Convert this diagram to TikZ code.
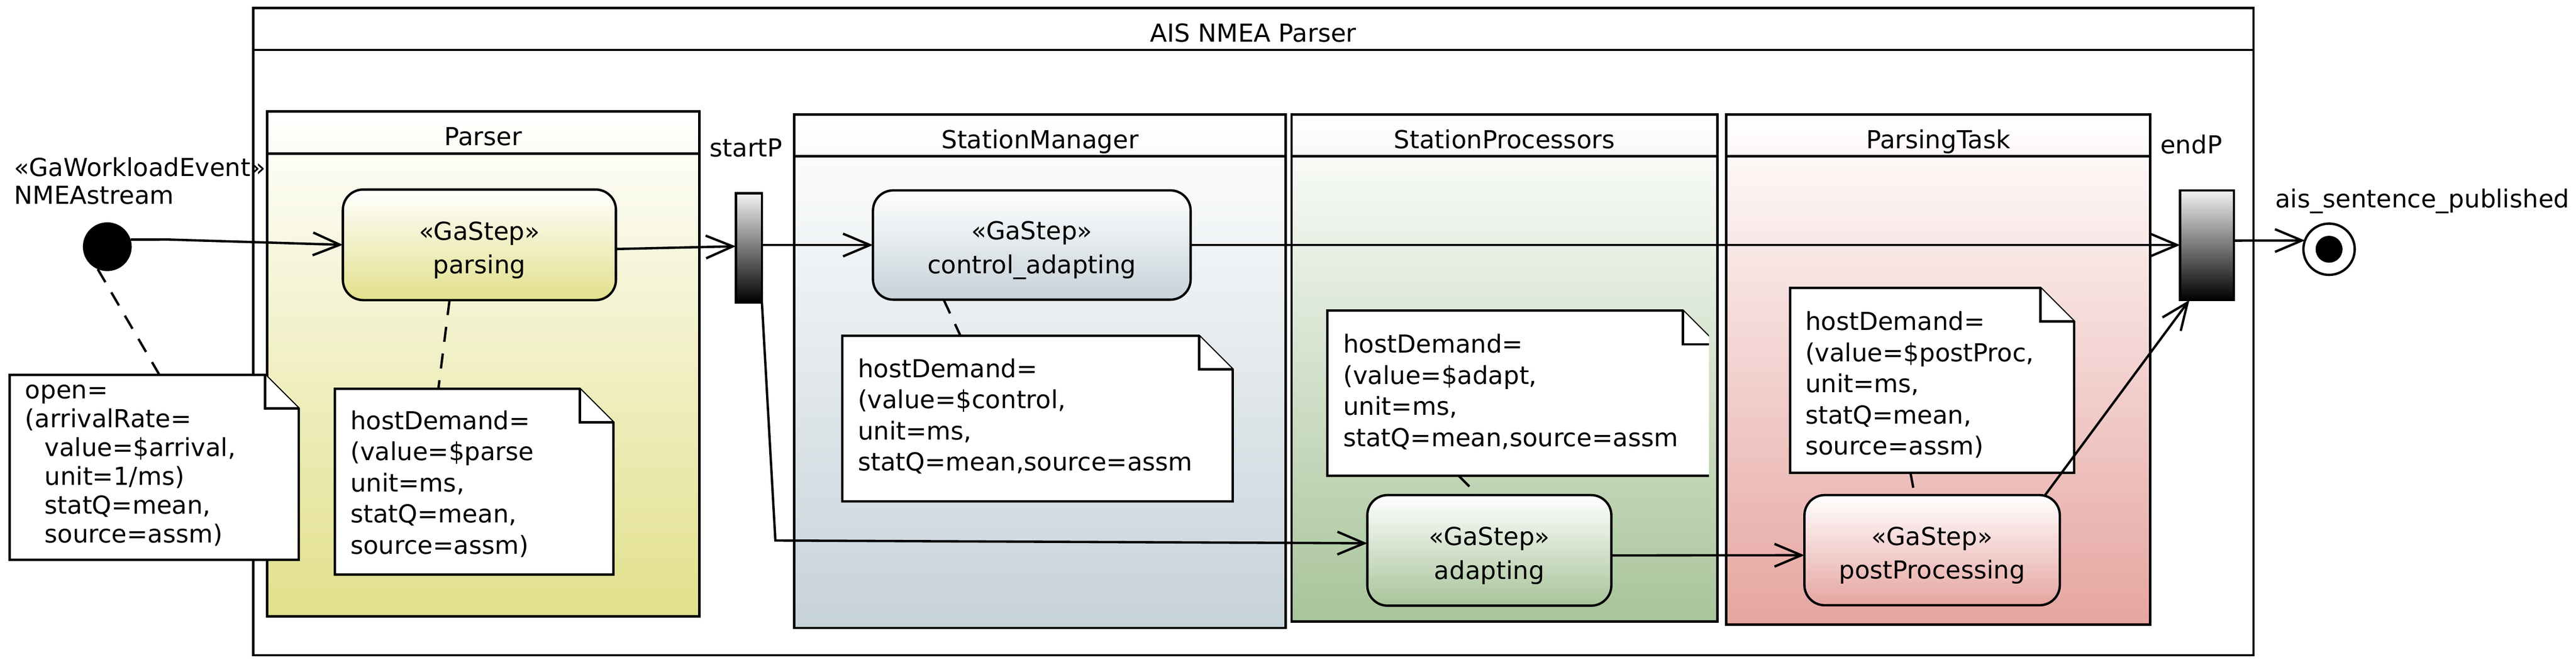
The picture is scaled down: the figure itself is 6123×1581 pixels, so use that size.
\documentclass[tikz,border=0pt]{standalone}
\usepackage{fontspec}
\setmainfont{DejaVu Sans}
\usetikzlibrary{arrows.meta,calc}
\definecolor{parserC}{HTML}{E2E08B}
\definecolor{smC}{HTML}{C6D2D9}
\definecolor{spC}{HTML}{A8C49A}
\definecolor{ptC}{HTML}{E6A5A0}
\newcommand{\fsz}{\fontsize{14.75pt}{18.5pt}\selectfont}
\newcommand{\umlnote}[5]{%
  \node[notearea, minimum width={(#4-#2)*0.25pt}, minimum height={(#5-#3)*0.25pt}] (#1) at (#2,#3) {};
  \filldraw[noteline] (#1.south west) -- (#1.north west) -- ([xshift=-20pt]#1.north east) -- ([yshift=-20pt]#1.north east) -- (#1.south east) -- cycle;
  \draw[noteline] ([xshift=-20pt]#1.north east) |- ([yshift=-20pt]#1.north east);
}
\newcommand{\umlpart}[7]{%
  \node[partbox, bottom color=#6, minimum width={(#4-#2)*0.25pt}, minimum height={(#5-#3)*0.25pt}] (#1) at (#2,#3) {};
  \draw[partline] ([yshift=-25pt]#1.north west) -- ([yshift=-25pt]#1.north east);
  \node[txt, anchor=base] (#1T) at ([yshift=-20.25pt]#1.north) {#7};
}
\begin{document}
\begin{tikzpicture}[x=0.25pt,y=-0.25pt,
  txt/.style={inner sep=0pt, outer sep=0pt, font=\fsz},
  framebox/.style={draw, fill=white, line width=1.3pt, rectangle, anchor=north west, inner sep=0pt, outer sep=0pt},
  partbox/.style={draw, line width=1.5pt, rectangle, anchor=north west, inner sep=0pt, outer sep=0pt, top color=white},
  partline/.style={line width=1.5pt},
  stepbox/.style={draw, line width=1.4pt, rounded corners=12pt, rectangle, inner sep=0pt, outer sep=0pt, align=center, top color=white, font=\fontsize{14.75pt}{20pt}\selectfont},
  pinbox/.style={draw, line width=1.4pt, rectangle, anchor=north west, inner sep=0pt, outer sep=0pt, top color=black!5, bottom color=black},
  notearea/.style={rectangle, anchor=north west, inner sep=0pt, outer sep=0pt},
  noteline/.style={draw=black, fill=white, line width=1.4pt, line join=miter},
  notetext/.style={anchor=north west, align=left, inner sep=0pt, outer sep=0pt, font=\fsz},
  conn/.style={line width=1.4pt, -{Straight Barb[length=16pt,width=13.5pt]}},
  dashline/.style={line width=1.4pt, dash pattern=on 9pt off 7pt},
]
\useasboundingbox (0,0) rectangle (6123,1581);
\fill[white] (0,0) rectangle (6123,1581);

% outer frame
\node[framebox, minimum width=1188.5pt, minimum height=385pt] (frame) at (602,19) {};
\draw[line width=1.3pt] ([yshift=-25pt]frame.north west) -- ([yshift=-25pt]frame.north east);
\node[txt, anchor=base] (frameT) at ([yshift=-20.25pt]frame.north) {AIS NMEA Parser};

% partitions
\umlpart{parser}{635}{265}{1662}{1466}{parserC}{Parser}
\umlpart{sman}{1888}{272}{3056}{1494}{smC}{StationManager}
\umlpart{sproc}{3070}{272}{4082}{1479}{spC}{StationProcessors}
\umlpart{ptask}{4103}{272}{5111}{1486}{ptC}{ParsingTask}

% notes
\umlnote{onote}{23}{892}{710}{1332}
\node[notetext, font=\fontsize{14.75pt}{17.1pt}\selectfont] (onoteT) at (60,889) {\rule{0pt}{15pt}open=\\(arrivalRate=\\\hspace*{11.5pt}value=\$arrival,\\\hspace*{11.5pt}unit=1/ms)\\\hspace*{11.5pt}statQ=mean,\\\hspace*{11.5pt}source=assm)};

\umlnote{pnote}{796}{925}{1458}{1367}
\node[notetext] (pnoteT) at (833,962) {\rule{0pt}{15pt}hostDemand=\\(value=\$parse\\unit=ms,\\statQ=mean,\\source=assm)};

\umlnote{cnote}{2002}{799}{2930}{1193}
\begin{scope}
\clip (2002,799) rectangle (2841,1193);
\node[notetext] (cnoteT) at (2039,838) {\rule{0pt}{15pt}hostDemand=\\(value=\$control,\\unit=ms,\\statQ=mean,source=assm};
\end{scope}

\begin{scope}
\clip (0,0) rectangle (4062,1581);
\umlnote{anote}{3155}{739}{4080}{1132}
\begin{scope}
\clip (3155,739) rectangle (3997,1132);
\node[notetext] (anoteT) at (3193,780) {\rule{0pt}{15pt}hostDemand=\\(value=\$adapt,\\unit=ms,\\statQ=mean,source=assm};
\end{scope}
\end{scope}

\umlnote{ppnote}{4255}{685}{4930}{1125}
\node[notetext] (ppnoteT) at (4291,726) {\rule{0pt}{15pt}hostDemand=\\(value=\$postProc,\\unit=ms,\\statQ=mean,\\source=assm)};

% actions
\node[stepbox, bottom color=parserC, minimum width=162.25pt, minimum height=65.75pt] (parsing) at (1139.5,582.5) {\rule{0pt}{17.25pt}«GaStep»\\parsing};
\node[stepbox, bottom color=smC, minimum width=188.75pt, minimum height=65pt] (control) at (2452.5,583) {\rule{0pt}{17.25pt}«GaStep»\\control\_adapting};
\node[stepbox, bottom color=spC, minimum width=145pt, minimum height=65.75pt] (adapting) at (3540,1309.5) {\rule{0pt}{17.25pt}«GaStep»\\adapting};
\node[stepbox, bottom color=ptC, minimum width=151.75pt, minimum height=65.5pt] (postProc) at (4592.5,1309) {\rule{0pt}{17.25pt}«GaStep»\\postProcessing};

% pins
\node[pinbox, minimum width=15.5pt, minimum height=65pt] (startP) at (1749,460) {};
\node[pinbox, minimum width=32pt, minimum height=65.25pt] (endP) at (5182,453) {};
\node[txt, anchor=base west] (startPT) at (1687,373) {startP};
\node[txt, anchor=base west] (endPT) at (5135,366) {endP};

% initial and final
\node[circle, fill=black, minimum size=29pt, inner sep=0pt, outer sep=0pt] (init) at (255,587) {};
\node[txt, anchor=base west] (evT1) at (34,419) {«GaWorkloadEvent»};
\node[txt, anchor=base west] (evT2) at (34,486) {NMEAstream};
\node[circle, draw, fill=white, line width=1.4pt, minimum size=30.5pt, inner sep=0pt, outer sep=0pt] (final) at (5536,593) {};
\node[circle, fill=black, minimum size=16pt, inner sep=0pt, outer sep=0pt] (finalIn) at (final.center) {};
\node[txt, anchor=base west] (finalT) at (5408,494) {ais\_sentence\_published};

% control flows
\coordinate (k1) at (402,570);
\draw[conn] (init.17) -- (k1) -- (parsing.west);
\draw[conn] ($(parsing.east)+(0,10)$) -- ($(startP.west)+(0,-4)$);
\draw[conn] (startP.east |- control.west) -- (control.west);
\draw[conn] (control.east) -- (control.east -| endP.west);
\coordinate (k2) at (1843,1286);
\draw[conn] (startP.south east) -- (k2) -- ($(adapting.west)+(0,-17)$);
\draw[conn] ($(adapting.east)+(0,12)$) -- ($(postProc.west)+(0,12)$);
\draw[conn] ($(postProc.north east)+(-35,0)$) -- ($(endP.south west)+(22,0)$);
\draw[conn] ($(endP.east)+(0,-11)$) -- (final.160);

% note attachments
\draw[dashline] (init.247) -- ($(onote.north west)+(356,0)$);
\draw[dashline] ($(parsing.south)+(-71,0)$) -- ($(pnote.north west)+(246,0)$);
\draw[dashline] ($(control.south west)+(168,0)$) -- ($(cnote.north west)+(281,0)$);
\draw[dashline] ($(anote.south west)+(312,0)$) -- ($(adapting.north west)+(263,0)$);
\draw[dashline] ($(ppnote.south west)+(286,0)$) -- ($(postProc.north west)+(262,0)$);
\end{tikzpicture}
\end{document}
